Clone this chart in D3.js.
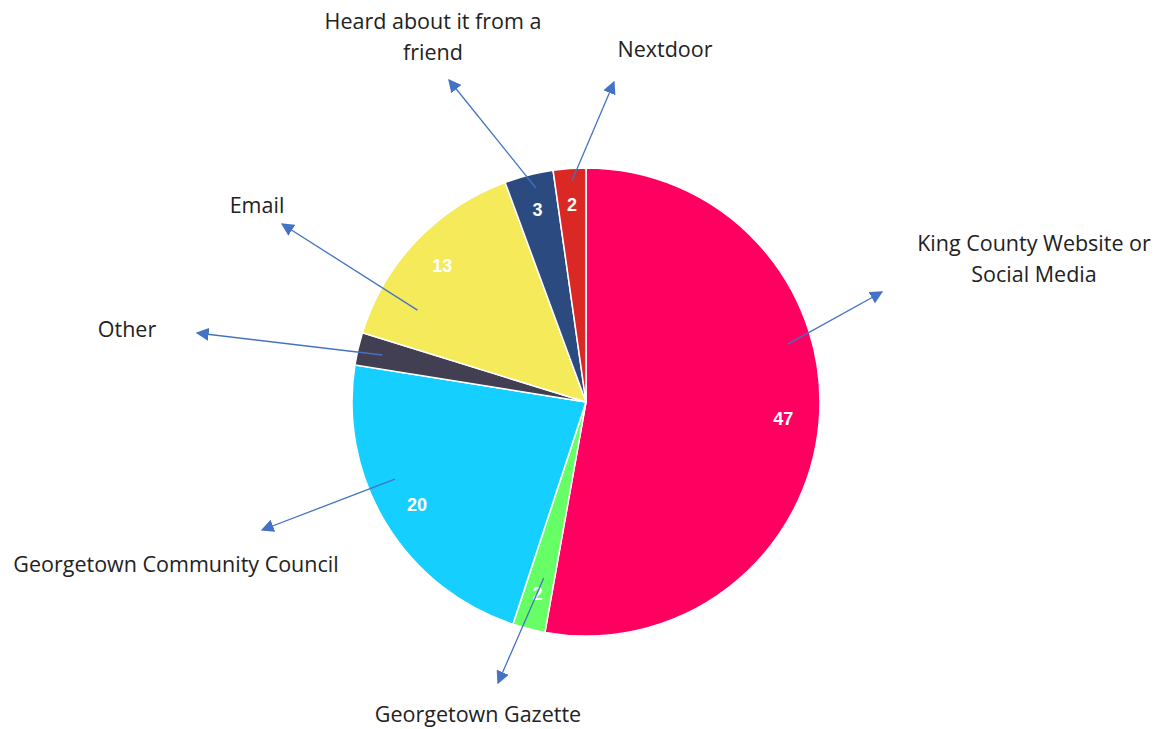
<!DOCTYPE html>
<html>
<head>
<meta charset="utf-8">
<script src="https://cdn.jsdelivr.net/npm/d3@7"></script>
<style>
  body { margin: 0; background: #fff; }
</style>
</head>
<body>
<svg></svg>
<script>
// data
const categories = ['King County Website or Social Media', 'Georgetown Gazette', 'Georgetown Community Council', 'Other', 'Email', 'Heard about it from a friend', 'Nextdoor']
const values = [47, 2, 20, 2, 13, 3, 2]
const colors = ['#ff0061', '#66ff66', '#14cfff', '#433f52', '#f5ea5a', '#2b4a80', '#da2825']
const labelLines = [['King County Website or', 'Social Media'], ['Georgetown Gazette'], ['Georgetown Community Council'], ['Other'], ['Email'], ['Heard about it from a', 'friend'], ['Nextdoor']]
const showValue = [true, true, true, false, true, true, true]

// callout layout: arrow start in pie polar coords (deg, px), arrow tip and label centre in page px
const arrowStart = [[74, 210], [193.5, 181], [248, 206], [283, 209], [298.6, 192], [346.8, 220], [356.4, 222]]
const arrowTip = [[882, 292], [498, 683], [262, 530], [197, 333], [282, 224], [449, 80], [614, 82]]
const labelPos = [[1034, 242], [478, 713], [176, 563], [127, 328], [257, 204], [433, 20], [665, 48]]

const width = 1172
const height = 729
const cx = 586
const cy = 402
const radius = 234

let svg = d3.select('svg').attr('width', width).attr('height', height)

svg.append('defs').append('marker')
    .attr('id', 'head')
    .attr('viewBox', '0 0 10 10')
    .attr('refX', 9).attr('refY', 5)
    .attr('markerWidth', 13).attr('markerHeight', 13)
    .attr('markerUnits', 'userSpaceOnUse')
    .attr('orient', 'auto')
    .append('path')
    .attr('d', 'M0,0 L10,5 L0,10 Z')
    .attr('fill', '#4472c4')

const pie = d3.pie().sort(null).value(d => d)
const arcs = pie(values)
const arc = d3.arc().innerRadius(0).outerRadius(radius)
const labelArc = d3.arc().innerRadius(198).outerRadius(198)

let g = svg.append('g').attr('transform', `translate(${cx},${cy})`)

g.selectAll('path.slice')
    .data(arcs)
    .enter()
    .append('path')
    .attr('class', 'slice')
    .attr('d', arc)
    .attr('fill', (d, i) => colors[i])
    .attr('stroke', '#fff')
    .attr('stroke-width', 1.5)

g.selectAll('text.value')
    .data(arcs.filter((d, i) => showValue[i]))
    .enter()
    .append('text')
    .attr('class', 'value')
    .attr('x', d => labelArc.centroid(d)[0])
    .attr('y', d => labelArc.centroid(d)[1])
    .attr('text-anchor', 'middle')
    .attr('dominant-baseline', 'central')
    .attr('fill', '#fff')
    .attr('font-family', 'Liberation Sans, Arial, sans-serif')
    .attr('font-size', 18)
    .attr('font-weight', 'bold')
    .text(d => d.value)

// arrows
const polar = (deg, r) => {
    let a = deg * Math.PI / 180
    return [cx + r * Math.sin(a), cy - r * Math.cos(a)]
}

svg.selectAll('line.arrow')
    .data(categories)
    .enter()
    .append('line')
    .attr('class', 'arrow')
    .attr('x1', (d, i) => polar(arrowStart[i][0], arrowStart[i][1])[0])
    .attr('y1', (d, i) => polar(arrowStart[i][0], arrowStart[i][1])[1])
    .attr('x2', (d, i) => arrowTip[i][0])
    .attr('y2', (d, i) => arrowTip[i][1])
    .attr('stroke', '#4472c4')
    .attr('stroke-width', 1.3)
    .attr('marker-end', 'url(#head)')

// category labels
let labels = svg.selectAll('text.cat')
    .data(categories)
    .enter()
    .append('text')
    .attr('class', 'cat')
    .attr('text-anchor', 'middle')
    .attr('font-family', 'Open Sans, sans-serif')
    .attr('font-size', 21.5)
    .attr('fill', '#222')

labels.each(function (d, i) {
    let t = d3.select(this)
    labelLines[i].forEach((line, j) => {
        t.append('tspan')
            .attr('x', labelPos[i][0])
            .attr('y', labelPos[i][1] + j * 31)
            .attr('dominant-baseline', 'central')
            .text(line)
    })
})
</script>
</body>
</html>
